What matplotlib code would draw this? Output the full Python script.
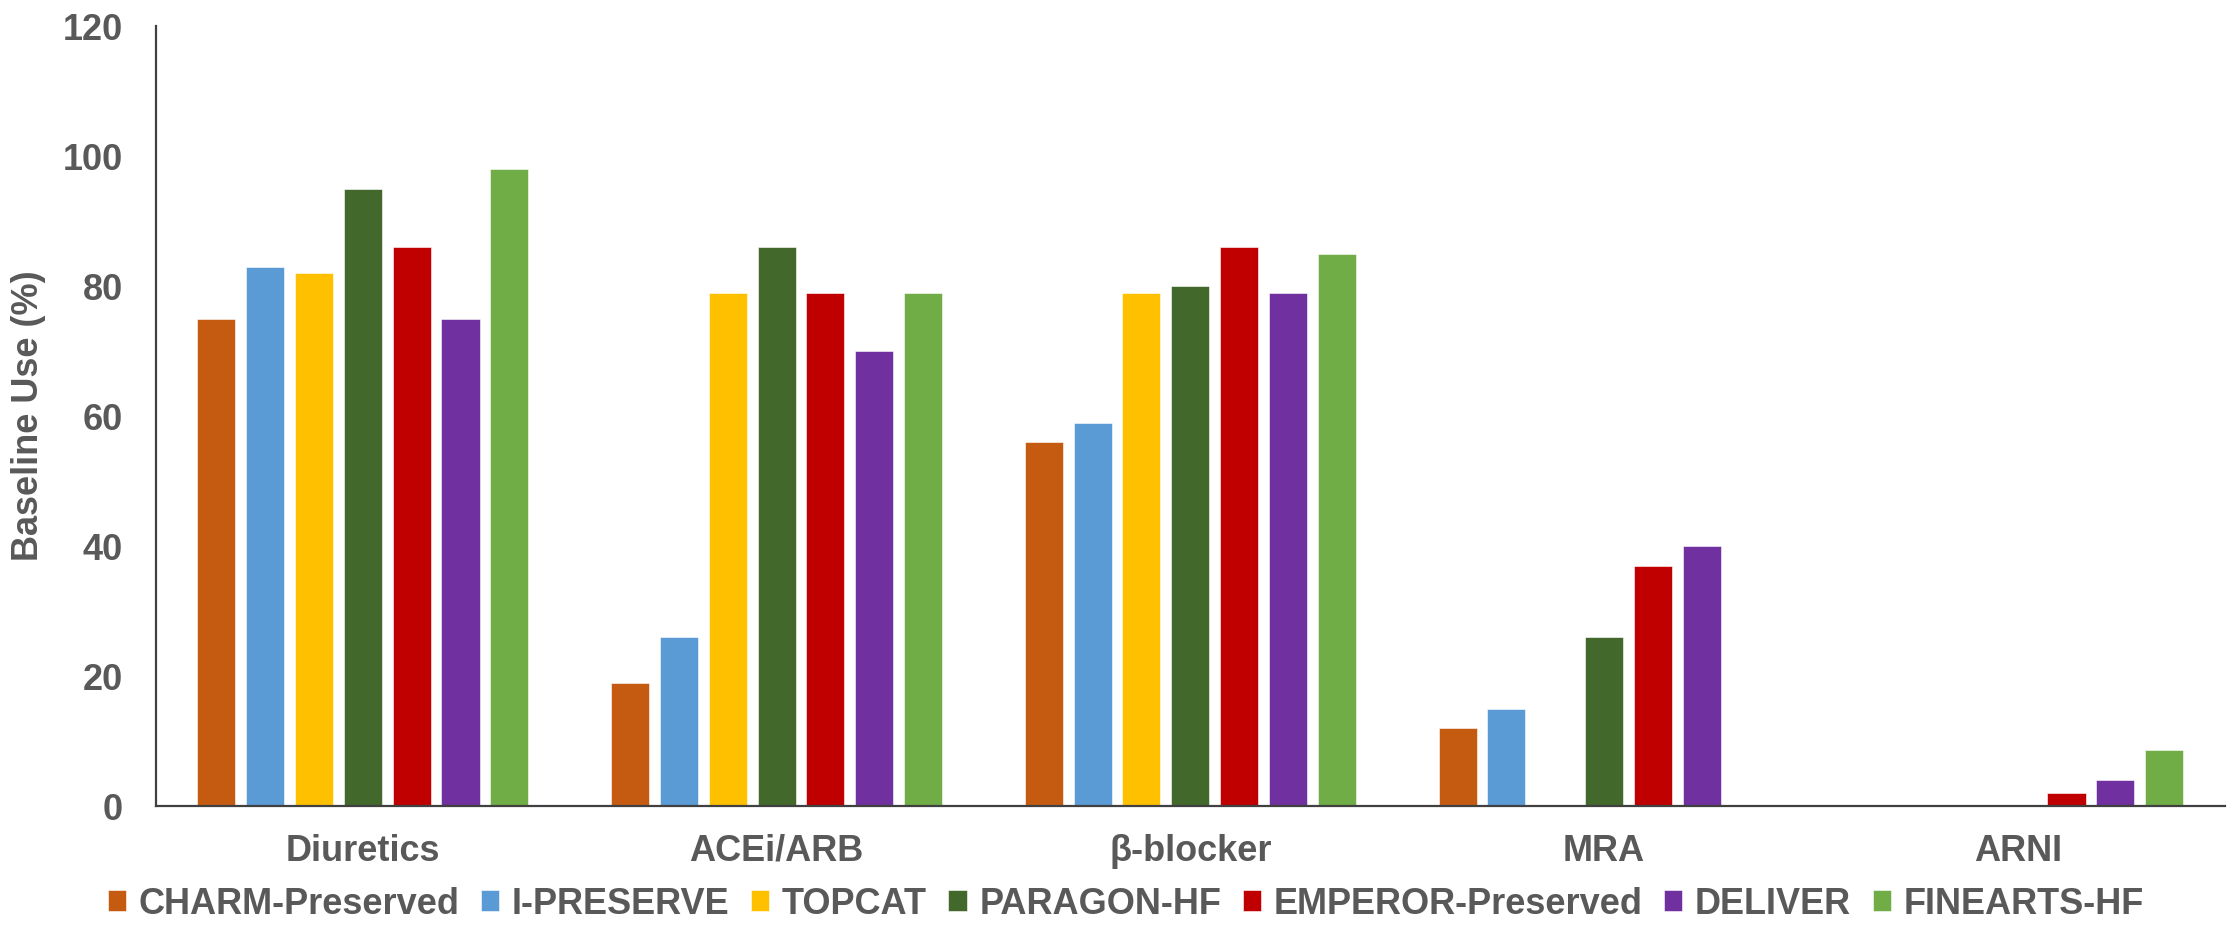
import matplotlib.pyplot as plt
import numpy as np

# Baseline use of HF therapies across HFpEF/HFmrEF trials
classes = ["Diuretics", "ACEi/ARB", "β-blocker", "MRA", "ARNI"]
trials = ["CHARM-Preserved", "I-PRESERVE", "TOPCAT", "PARAGON-HF",
          "EMPEROR-Preserved", "DELIVER", "FINEARTS-HF"]

nan = np.nan
charm    = [75, 19, 56, 12, nan]
ipreserve = [83, 26, 59, 15, nan]
topcat   = [82, 79, 79, nan, nan]
paragon  = [95, 86, 80, 26, nan]
emperor  = [86, 79, 86, 37, 2]
deliver  = [75, 70, 79, 40, 4]
finearts = [98, 79, 85, nan, 8.6]

series = [charm, ipreserve, topcat, paragon, emperor, deliver, finearts]
colors = ["#C55A11", "#5B9BD5", "#FFC000", "#43682B",
          "#C00000", "#7030A0", "#70AD47"]

TEXT = "#595959"
plt.rcParams.update({
    "font.family": ["Liberation Sans", "DejaVu Sans"],
    "font.weight": "bold",
    "axes.labelweight": "bold",
})

fig = plt.figure(figsize=(22.29, 9.33), dpi=100)
ax = fig.add_axes([0.070, 0.136, 0.928, 0.836])

x = np.arange(len(classes))
step, width = 0.118, 0.092
for i, (vals, c, name) in enumerate(zip(series, colors, trials)):
    ax.bar(x + (i - 3) * step, vals, width, color=c, label=name,
           edgecolor="white", linewidth=0.4)

ax.set_xlim(-0.5, len(classes) - 0.5)
ax.set_ylim(0, 120)
ax.set_yticks(range(0, 121, 20))
ax.set_xticks(x)
ax.set_xticklabels(classes)

for side in ("top", "right"):
    ax.spines[side].set_visible(False)
for side in ("left", "bottom"):
    ax.spines[side].set_color("#404040")
    ax.spines[side].set_linewidth(1.6)

ax.tick_params(axis="y", length=0, pad=24, labelsize=26, labelcolor=TEXT)
ax.tick_params(axis="x", length=0, pad=20, labelsize=26, labelcolor=TEXT)
ax.set_ylabel("Baseline Use (%)", fontsize=26, fontweight="bold",
              color=TEXT, labelpad=12)

fig.legend(loc="center", bbox_to_anchor=(0.505, 0.031), ncol=7,
           frameon=False, fontsize=26, labelcolor=TEXT,
           handlelength=0.5, handleheight=0.5, handletextpad=0.35,
           columnspacing=0.6)

fig.savefig("out.png", dpi=100)
